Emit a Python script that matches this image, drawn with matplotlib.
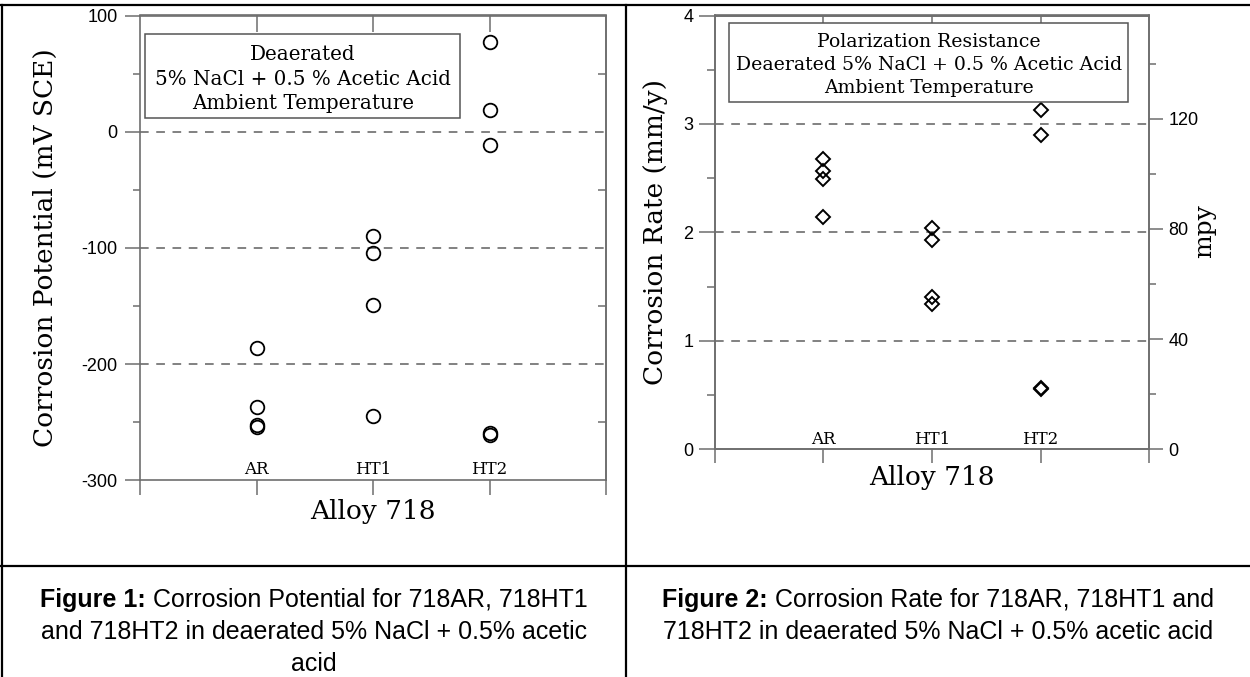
import matplotlib
matplotlib.use("Agg")
import matplotlib.pyplot as plt
from matplotlib.patches import Rectangle
from matplotlib.lines import Line2D
from matplotlib.ticker import FixedLocator

plt.rcParams['font.family'] = ['DejaVu Serif']
plt.rcParams['axes.unicode_minus'] = False

# ---------------- data ----------------
categories = ['AR', 'HT1', 'HT2']
cat_pos = [1, 2, 3]

ecorr_AR = [-186.5, -237, -252, -254]
ecorr_HT1 = [-90, -104.5, -149, -245]
ecorr_HT2 = [77, 18.5, -11, -259, -261]

rate_AR = [2.68, 2.565, 2.49, 2.14]
rate_HT1 = [2.04, 1.93, 1.405, 1.34]
rate_HT2 = [3.13, 2.895, 0.56, 0.57]

MM_TO_MPY = 39.37

pot_major = [-300, -200, -100, 0, 100]
pot_minor = [-250, -150, -50, 50]
pot_grid = [0, -100, -200]
rate_major = [0, 1, 2, 3, 4]
rate_minor = [0.5, 1.5, 2.5, 3.5]
rate_grid = [1, 2, 3]
mpy_major = [0, 40, 80, 120]
mpy_minor = [20, 60, 100, 140]

box1_lines = ['Deaerated', '5% NaCl + 0.5 % Acetic Acid', 'Ambient Temperature']
box2_lines = ['Polarization Resistance', 'Deaerated 5% NaCl + 0.5 % Acetic Acid',
              'Ambient Temperature']

cap1 = [[('Figure 1:', 'bold'), (' Corrosion Potential for 718AR, 718HT1', 'normal')],
        [('and 718HT2 in deaerated 5% NaCl + 0.5% acetic', 'normal')],
        [('acid', 'normal')]]
cap2 = [[('Figure 2:', 'bold'), (' Corrosion Rate for 718AR, 718HT1 and', 'normal')],
        [('718HT2 in deaerated 5% NaCl + 0.5% acetic acid', 'normal')]]

# ---------------- figure ----------------
W, H = 1250, 677
fig = plt.figure(figsize=(W / 100, H / 100), dpi=100)
fig.patch.set_facecolor('white')

SPINE = '#6e6e6e'
GRID = '#777777'
TICKFONT = 'Liberation Sans'
TICKSIZE = 13
DASH = (0, (4.8, 4.2))


def px_axes(x0, x1, ytop, ybot):
    return fig.add_axes([x0 / W, (H - ybot) / H, (x1 - x0) / W, (ybot - ytop) / H])


def style_spines(ax):
    for s in ax.spines.values():
        s.set_color(SPINE)
        s.set_linewidth(1.2)


# ---------- panel 1 ----------
ax1 = px_axes(140.3, 605.9, 15.5, 480.4)
ax1.set_xlim(0, 4)
ax1.set_ylim(-300, 100)
style_spines(ax1)
for x, vals in zip(cat_pos, [ecorr_AR, ecorr_HT1, ecorr_HT2]):
    ax1.plot([x] * len(vals), vals, ls='none', marker='o', ms=9.8,
             mfc='none', mec='black', mew=1.3, zorder=4)
for g in pot_grid:
    ax1.axhline(g, color=GRID, lw=1.3, ls=DASH, zorder=1)

ax1.set_yticks(pot_major)
ax1.yaxis.set_minor_locator(FixedLocator(pot_minor))
ax1.tick_params(axis='y', which='major', direction='out', length=10.5, width=1.1,
                color=SPINE, labelsize=TICKSIZE, pad=6, labelfontfamily=TICKFONT)
ax1.tick_params(axis='y', which='minor', direction='out', length=5, width=1.1, color=SPINE)
ax1.set_xticks([0, 1, 2, 3, 4])
ax1.tick_params(axis='x', which='major', direction='out', length=11, width=1.1,
                color=SPINE, labelbottom=False)

ax1r = ax1.secondary_yaxis('right')
ax1r.set_yticks(pot_minor)
ax1r.tick_params(axis='y', direction='in', length=5.8, width=1.1, color=SPINE, labelright=False)
ax1r.spines['right'].set_color(SPINE)
ax1r.spines['right'].set_linewidth(1.2)
ax1t = ax1.secondary_xaxis('top')
ax1t.set_xticks(cat_pos)
ax1t.tick_params(axis='x', direction='in', length=12, width=1.1, color=SPINE, labeltop=False)
ax1t.spines['top'].set_color(SPINE)
ax1t.spines['top'].set_linewidth(1.2)

for x, c in zip(cat_pos, categories):
    ax1.text(x, 0.0138, c, transform=ax1.get_xaxis_transform(), ha='center',
             va='baseline', fontsize=12)

ax1.add_patch(Rectangle((0.011, 0.7793), 0.6765, 0.1801, transform=ax1.transAxes,
                        fc='white', ec='#555555', lw=1.1, zorder=5))
for yy, line in zip([0.917, 0.863, 0.811], box1_lines):
    ax1.text(0.349, yy, line, transform=ax1.transAxes, ha='center', va='center',
             fontsize=14.3, zorder=6)

ax1.set_ylabel('Corrosion Potential (mV SCE)', fontsize=19)
ax1.yaxis.set_label_coords(-0.203, 0.5)
ax1.yaxis.label.set_va('center')
ax1.set_xlabel('Alloy 718', fontsize=19)
ax1.xaxis.set_label_coords(0.5, -0.067)
ax1.xaxis.label.set_va('center')

# ---------- panel 2 ----------
ax2 = px_axes(714.7, 1149.2, 15.5, 449.4)
ax2.set_xlim(0, 4)
ax2.set_ylim(0, 4)
style_spines(ax2)
for x, vals in zip(cat_pos, [rate_AR, rate_HT1, rate_HT2]):
    ax2.plot([x] * len(vals), vals, ls='none', marker='D', ms=7.0,
             mfc='none', mec='black', mew=1.4, zorder=4)
for g in rate_grid:
    ax2.axhline(g, color=GRID, lw=1.3, ls=DASH, zorder=1)

ax2.set_yticks(rate_major)
ax2.yaxis.set_minor_locator(FixedLocator(rate_minor))
ax2.tick_params(axis='y', which='major', direction='out', length=11.5, width=1.1,
                color=SPINE, labelsize=TICKSIZE, pad=4, labelfontfamily=TICKFONT)
ax2.tick_params(axis='y', which='minor', direction='out', length=5.8, width=1.1, color=SPINE)
ax2.set_xticks([0, 1, 2, 3, 4])
ax2.tick_params(axis='x', which='major', direction='out', length=10, width=1.1,
                color=SPINE, labelbottom=False)

ax2t = ax2.secondary_xaxis('top')
ax2t.set_xticks(cat_pos)
ax2t.tick_params(axis='x', direction='in', length=10, width=1.1, color=SPINE, labeltop=False)
ax2t.spines['top'].set_color(SPINE)
ax2t.spines['top'].set_linewidth(1.2)

ax2r = ax2.twinx()
ax2r.set_ylim(0, 4 * MM_TO_MPY)
style_spines(ax2r)
ax2r.set_yticks(mpy_major)
ax2r.yaxis.set_minor_locator(FixedLocator(mpy_minor))
ax2r.tick_params(axis='y', which='major', direction='out', length=10, width=1.1,
                 color=SPINE, labelsize=TICKSIZE, pad=4, labelfontfamily=TICKFONT)
ax2r.tick_params(axis='y', which='minor', direction='out', length=5.2, width=1.1, color=SPINE)
ax2r.set_ylabel('mpy', fontsize=18)
ax2r.yaxis.set_label_coords(1.128, 0.504)
ax2r.yaxis.label.set_va('center')

for x, c in zip(cat_pos, categories):
    ax2.text(x, 0.0122, c, transform=ax2.get_xaxis_transform(), ha='center',
             va='baseline', fontsize=12)

ax2.add_patch(Rectangle((0.0338, 0.8016), 0.9182, 0.1802, transform=ax2.transAxes,
                        fc='white', ec='#555555', lw=1.1, zorder=5))
for yy, line in zip([0.938, 0.885, 0.833], box2_lines):
    ax2.text(0.4925, yy, line, transform=ax2.transAxes, ha='center', va='center',
             fontsize=13.6, zorder=6)

ax2.set_ylabel('Corrosion Rate (mm/y)', fontsize=19)
ax2.yaxis.set_label_coords(-0.137, 0.502)
ax2.yaxis.label.set_va('center')
ax2.set_xlabel('Alloy 718', fontsize=19)
ax2.xaxis.set_label_coords(0.5, -0.064)
ax2.xaxis.label.set_va('center')

# ---------- table borders ----------
def hline(ypx, x0=0, x1=W, lw=1.6):
    fig.add_artist(Line2D([x0 / W, x1 / W], [(H - ypx) / H] * 2,
                          transform=fig.transFigure, color='black', lw=lw))


def vline(xpx, y0=0, y1=H, lw=1.6):
    fig.add_artist(Line2D([xpx / W] * 2, [(H - y0) / H, (H - y1) / H],
                          transform=fig.transFigure, color='black', lw=lw))


hline(5)
hline(566)
vline(2, 5, H)
vline(626, 5, H)

# ---------- captions ----------
renderer = fig.canvas.get_renderer()
CAPSIZE = 18


def caption(lines, cx, baselines):
    for parts, yb in zip(lines, baselines):
        texts = []
        for s, w in parts:
            t = fig.text(0, (H - yb) / H, s, fontsize=CAPSIZE, fontweight=w,
                         family='Liberation Sans', ha='left', va='baseline')
            texts.append(t)
        widths = [t.get_window_extent(renderer).width for t in texts]
        x = cx - sum(widths) / 2
        for t, w in zip(texts, widths):
            t.set_x(x / W)
            x += w


caption(cap1, 314, [607, 639, 671])
caption(cap2, 938, [607, 639])

fig.savefig('out.png', dpi=100, facecolor='white')
